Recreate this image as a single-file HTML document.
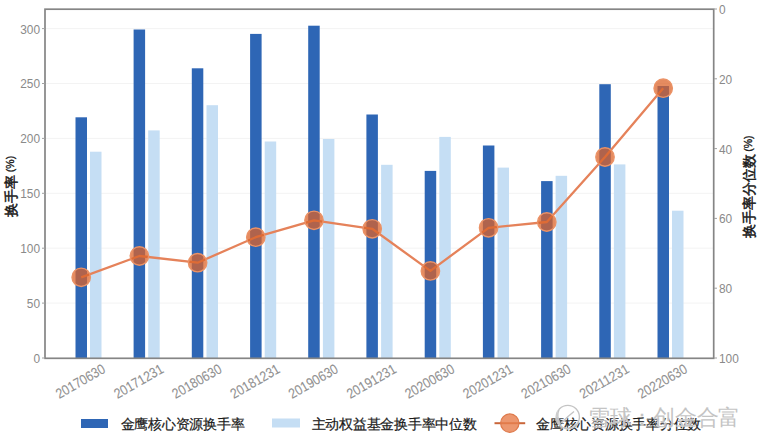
<!DOCTYPE html>
<html><head><meta charset="utf-8"><style>
html,body{margin:0;padding:0;background:#fff;}
body{width:759px;height:440px;overflow:hidden;position:relative;font-family:"Liberation Sans",sans-serif;}
svg{position:absolute;left:0;top:0;}
text{font-family:"Liberation Sans",sans-serif;}
</style></head><body>
<svg width="759" height="440" viewBox="0 0 759 440">

<line x1="46" y1="303.1" x2="713" y2="303.1" stroke="#F3F3F3" stroke-width="1"/>
<line x1="46" y1="248.2" x2="713" y2="248.2" stroke="#F3F3F3" stroke-width="1"/>
<line x1="46" y1="193.3" x2="713" y2="193.3" stroke="#F3F3F3" stroke-width="1"/>
<line x1="46" y1="138.4" x2="713" y2="138.4" stroke="#F3F3F3" stroke-width="1"/>
<line x1="46" y1="83.5" x2="713" y2="83.5" stroke="#F3F3F3" stroke-width="1"/>
<line x1="46" y1="28.6" x2="713" y2="28.6" stroke="#F3F3F3" stroke-width="1"/>
<rect x="75.5" y="117.3" width="11.5" height="240.7" fill="#2E66B5"/>
<rect x="90.0" y="151.7" width="11.5" height="206.3" fill="#C5DEF4"/>
<rect x="133.6" y="29.5" width="11.5" height="328.5" fill="#2E66B5"/>
<rect x="148.2" y="130.4" width="11.5" height="227.6" fill="#C5DEF4"/>
<rect x="191.8" y="68.3" width="11.5" height="289.7" fill="#2E66B5"/>
<rect x="206.5" y="105.2" width="11.5" height="252.8" fill="#C5DEF4"/>
<rect x="250.1" y="33.9" width="11.5" height="324.1" fill="#2E66B5"/>
<rect x="264.7" y="141.5" width="11.5" height="216.5" fill="#C5DEF4"/>
<rect x="308.2" y="25.7" width="11.5" height="332.3" fill="#2E66B5"/>
<rect x="322.9" y="139.0" width="11.5" height="219.0" fill="#C5DEF4"/>
<rect x="366.4" y="114.5" width="11.5" height="243.5" fill="#2E66B5"/>
<rect x="381.1" y="164.8" width="11.5" height="193.2" fill="#C5DEF4"/>
<rect x="424.7" y="170.9" width="11.5" height="187.1" fill="#2E66B5"/>
<rect x="439.3" y="136.9" width="11.5" height="221.1" fill="#C5DEF4"/>
<rect x="482.9" y="145.5" width="11.5" height="212.5" fill="#2E66B5"/>
<rect x="497.5" y="167.6" width="11.5" height="190.4" fill="#C5DEF4"/>
<rect x="541.1" y="181.1" width="11.5" height="176.9" fill="#2E66B5"/>
<rect x="555.6" y="175.8" width="11.5" height="182.2" fill="#C5DEF4"/>
<rect x="599.3" y="84.2" width="11.5" height="273.8" fill="#2E66B5"/>
<rect x="613.9" y="164.4" width="11.5" height="193.6" fill="#C5DEF4"/>
<rect x="657.5" y="86.0" width="11.5" height="272.0" fill="#2E66B5"/>
<rect x="672.0" y="210.7" width="11.5" height="147.3" fill="#C5DEF4"/>
<rect x="45" y="9.2" width="668.7" height="349.1" fill="none" stroke="#858585" stroke-width="1.7"/>
<line x1="42" y1="358.0" x2="45" y2="358.0" stroke="#A0A0A0" stroke-width="1"/>
<text x="40" y="362.9" font-size="13.6" fill="#8A8A8A" text-anchor="end" textLength="6.6" lengthAdjust="spacingAndGlyphs">0</text>
<line x1="42" y1="303.1" x2="45" y2="303.1" stroke="#A0A0A0" stroke-width="1"/>
<text x="40" y="308.0" font-size="13.6" fill="#8A8A8A" text-anchor="end" textLength="13.2" lengthAdjust="spacingAndGlyphs">50</text>
<line x1="42" y1="248.2" x2="45" y2="248.2" stroke="#A0A0A0" stroke-width="1"/>
<text x="40" y="253.1" font-size="13.6" fill="#8A8A8A" text-anchor="end" textLength="19.8" lengthAdjust="spacingAndGlyphs">100</text>
<line x1="42" y1="193.3" x2="45" y2="193.3" stroke="#A0A0A0" stroke-width="1"/>
<text x="40" y="198.2" font-size="13.6" fill="#8A8A8A" text-anchor="end" textLength="19.8" lengthAdjust="spacingAndGlyphs">150</text>
<line x1="42" y1="138.4" x2="45" y2="138.4" stroke="#A0A0A0" stroke-width="1"/>
<text x="40" y="143.3" font-size="13.6" fill="#8A8A8A" text-anchor="end" textLength="19.8" lengthAdjust="spacingAndGlyphs">200</text>
<line x1="42" y1="83.5" x2="45" y2="83.5" stroke="#A0A0A0" stroke-width="1"/>
<text x="40" y="88.4" font-size="13.6" fill="#8A8A8A" text-anchor="end" textLength="19.8" lengthAdjust="spacingAndGlyphs">250</text>
<line x1="42" y1="28.6" x2="45" y2="28.6" stroke="#A0A0A0" stroke-width="1"/>
<text x="40" y="33.5" font-size="13.6" fill="#8A8A8A" text-anchor="end" textLength="19.8" lengthAdjust="spacingAndGlyphs">300</text>
<line x1="714" y1="9.0" x2="717" y2="9.0" stroke="#A0A0A0" stroke-width="1"/>
<text x="719" y="13.9" font-size="13.6" fill="#8A8A8A" textLength="6.6" lengthAdjust="spacingAndGlyphs">0</text>
<line x1="714" y1="78.8" x2="717" y2="78.8" stroke="#A0A0A0" stroke-width="1"/>
<text x="719" y="83.7" font-size="13.6" fill="#8A8A8A" textLength="13.2" lengthAdjust="spacingAndGlyphs">20</text>
<line x1="714" y1="148.6" x2="717" y2="148.6" stroke="#A0A0A0" stroke-width="1"/>
<text x="719" y="153.5" font-size="13.6" fill="#8A8A8A" textLength="13.2" lengthAdjust="spacingAndGlyphs">40</text>
<line x1="714" y1="218.4" x2="717" y2="218.4" stroke="#A0A0A0" stroke-width="1"/>
<text x="719" y="223.3" font-size="13.6" fill="#8A8A8A" textLength="13.2" lengthAdjust="spacingAndGlyphs">60</text>
<line x1="714" y1="288.2" x2="717" y2="288.2" stroke="#A0A0A0" stroke-width="1"/>
<text x="719" y="293.1" font-size="13.6" fill="#8A8A8A" textLength="13.2" lengthAdjust="spacingAndGlyphs">80</text>
<line x1="714" y1="358.0" x2="717" y2="358.0" stroke="#A0A0A0" stroke-width="1"/>
<text x="719" y="362.9" font-size="13.6" fill="#8A8A8A" textLength="19.8" lengthAdjust="spacingAndGlyphs">100</text>
<polyline points="81.2,277.3 139.4,256.0 197.6,262.7 255.8,237.2 314.0,220.3 372.2,228.8 430.4,270.9 488.6,227.8 546.8,222.0 605.0,157.0 663.2,88.2" fill="none" stroke="#E5825A" stroke-width="2.3" stroke-linejoin="round"/>
<circle cx="81.2" cy="277.3" r="9.2" fill="#DC6228" fill-opacity="0.74" stroke="#EB9266" stroke-width="1.4"/>
<circle cx="139.4" cy="256.0" r="9.2" fill="#DC6228" fill-opacity="0.74" stroke="#EB9266" stroke-width="1.4"/>
<circle cx="197.6" cy="262.7" r="9.2" fill="#DC6228" fill-opacity="0.74" stroke="#EB9266" stroke-width="1.4"/>
<circle cx="255.8" cy="237.2" r="9.2" fill="#DC6228" fill-opacity="0.74" stroke="#EB9266" stroke-width="1.4"/>
<circle cx="314.0" cy="220.3" r="9.2" fill="#DC6228" fill-opacity="0.74" stroke="#EB9266" stroke-width="1.4"/>
<circle cx="372.2" cy="228.8" r="9.2" fill="#DC6228" fill-opacity="0.74" stroke="#EB9266" stroke-width="1.4"/>
<circle cx="430.4" cy="270.9" r="9.2" fill="#DC6228" fill-opacity="0.74" stroke="#EB9266" stroke-width="1.4"/>
<circle cx="488.6" cy="227.8" r="9.2" fill="#DC6228" fill-opacity="0.74" stroke="#EB9266" stroke-width="1.4"/>
<circle cx="546.8" cy="222.0" r="9.2" fill="#DC6228" fill-opacity="0.74" stroke="#EB9266" stroke-width="1.4"/>
<circle cx="605.0" cy="157.0" r="9.2" fill="#DC6228" fill-opacity="0.74" stroke="#EB9266" stroke-width="1.4"/>
<circle cx="663.2" cy="88.2" r="9.2" fill="#DC6228" fill-opacity="0.74" stroke="#EB9266" stroke-width="1.4"/>
<text x="0" y="0" font-size="14" fill="#929292" stroke="#929292" stroke-width="0.1" text-anchor="end" textLength="54.5" lengthAdjust="spacingAndGlyphs" transform="translate(106.4,371.8) rotate(-30)">20170630</text>
<text x="0" y="0" font-size="14" fill="#929292" stroke="#929292" stroke-width="0.1" text-anchor="end" textLength="54.5" lengthAdjust="spacingAndGlyphs" transform="translate(164.6,371.8) rotate(-30)">20171231</text>
<text x="0" y="0" font-size="14" fill="#929292" stroke="#929292" stroke-width="0.1" text-anchor="end" textLength="54.5" lengthAdjust="spacingAndGlyphs" transform="translate(222.8,371.8) rotate(-30)">20180630</text>
<text x="0" y="0" font-size="14" fill="#929292" stroke="#929292" stroke-width="0.1" text-anchor="end" textLength="54.5" lengthAdjust="spacingAndGlyphs" transform="translate(281.0,371.8) rotate(-30)">20181231</text>
<text x="0" y="0" font-size="14" fill="#929292" stroke="#929292" stroke-width="0.1" text-anchor="end" textLength="54.5" lengthAdjust="spacingAndGlyphs" transform="translate(339.2,371.8) rotate(-30)">20190630</text>
<text x="0" y="0" font-size="14" fill="#929292" stroke="#929292" stroke-width="0.1" text-anchor="end" textLength="54.5" lengthAdjust="spacingAndGlyphs" transform="translate(397.4,371.8) rotate(-30)">20191231</text>
<text x="0" y="0" font-size="14" fill="#929292" stroke="#929292" stroke-width="0.1" text-anchor="end" textLength="54.5" lengthAdjust="spacingAndGlyphs" transform="translate(455.6,371.8) rotate(-30)">20200630</text>
<text x="0" y="0" font-size="14" fill="#929292" stroke="#929292" stroke-width="0.1" text-anchor="end" textLength="54.5" lengthAdjust="spacingAndGlyphs" transform="translate(513.8,371.8) rotate(-30)">20201231</text>
<text x="0" y="0" font-size="14" fill="#929292" stroke="#929292" stroke-width="0.1" text-anchor="end" textLength="54.5" lengthAdjust="spacingAndGlyphs" transform="translate(572.0,371.8) rotate(-30)">20210630</text>
<text x="0" y="0" font-size="14" fill="#929292" stroke="#929292" stroke-width="0.1" text-anchor="end" textLength="54.5" lengthAdjust="spacingAndGlyphs" transform="translate(630.2,371.8) rotate(-30)">20211231</text>
<text x="0" y="0" font-size="14" fill="#929292" stroke="#929292" stroke-width="0.1" text-anchor="end" textLength="54.5" lengthAdjust="spacingAndGlyphs" transform="translate(688.4,371.8) rotate(-30)">20220630</text>
<text x="0" y="0" font-size="14" fill="#1A1A1A" stroke="#1A1A1A" stroke-width="0.5" transform="translate(16,217.2) rotate(-90)">换手率<tspan font-size="10.5" stroke-width="0.35" dx="3" dy="-2">(%)</tspan></text>
<text x="0" y="0" font-size="14" fill="#1A1A1A" stroke="#1A1A1A" stroke-width="0.5" transform="translate(753.6,238.3) rotate(-90)">换手率分位数<tspan font-size="10.5" stroke-width="0.35" dx="2.5" dy="-2">(%)</tspan></text>
<rect x="81" y="419" width="27" height="9" fill="#2E66B5"/>
<text x="120.5" y="428.5" font-size="14" letter-spacing="-0.25" fill="#1A1A1A" stroke="#1A1A1A" stroke-width="0.22">金鹰核心资源换手率</text>
<rect x="272" y="418.5" width="28" height="9" fill="#C5DEF4"/>
<text x="311.7" y="428.5" font-size="14" letter-spacing="-0.25" fill="#1A1A1A" stroke="#1A1A1A" stroke-width="0.22">主动权益基金换手率中位数</text>
<line x1="494.5" y1="423.2" x2="525.2" y2="423.2" stroke="#C9663A" stroke-width="2"/>
<circle cx="509.8" cy="423.1" r="9.2" fill="#E8804F" fill-opacity="0.82" stroke="#DE7A4C" stroke-width="1.2"/>
<text x="536" y="428.5" font-size="14" letter-spacing="-0.25" fill="#1A1A1A" stroke="#1A1A1A" stroke-width="0.22">金鹰核心资源换手率分位数</text>
<g opacity="1">
<circle cx="567.8" cy="417" r="11.6" fill="none" stroke="#FFFFFF" stroke-opacity="0.5" stroke-width="2.4"/>
<circle cx="567.8" cy="417" r="11.6" fill="none" stroke="#C4C4C4" stroke-width="1.4"/>
<path d="M559,409.5 C557,414 557.5,419 560,424 M574,411.5 C570,414.5 566,418 561.5,423" fill="none" stroke="#FFFFFF" stroke-opacity="0.5" stroke-width="2.2"/>
<path d="M559,409.5 C557,414 557.5,419 560,424 M574,411.5 C570,414.5 566,418 561.5,423" fill="none" stroke="#C4C4C4" stroke-width="1.4"/>
<text x="588" y="424.5" font-size="22" letter-spacing="-0.3" fill="#C4C4C4" stroke="#FFFFFF" stroke-opacity="0.7" stroke-width="0.8" paint-order="stroke">雪球：创金合富</text>
</g>
</svg></body></html>
